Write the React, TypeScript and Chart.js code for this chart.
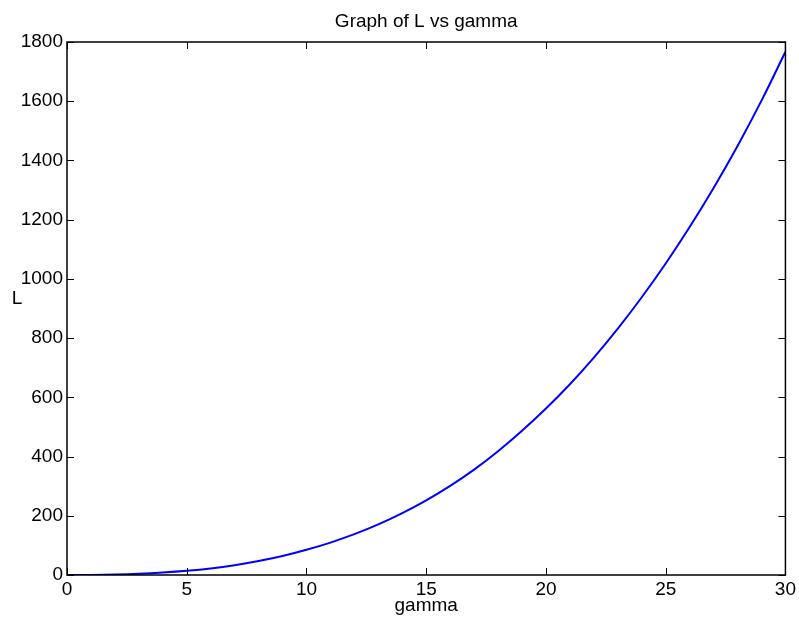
import React, { useEffect, useRef } from "react";
import { Chart, registerables } from "chart.js";

Chart.register(...registerables);

const gammaValues: number[] = [
  0, 1, 2, 3, 4, 5, 6, 7, 8, 9, 10, 11, 12, 13, 14, 15, 16, 17, 18, 19, 20,
  21, 22, 23, 24, 25, 26, 27, 28, 29, 30,
];
const LValues: number[] = [
  0, 0.3, 1.6, 4.1, 8.2, 14, 22, 33, 47, 64, 85, 109.5, 138, 171, 209, 252,
  301, 356, 418, 487, 562, 644, 734, 832, 938, 1052, 1175, 1307, 1449, 1602,
  1767,
];
const xTicks: number[] = [0, 5, 10, 15, 20, 25, 30];
const yTicks: number[] = [0, 200, 400, 600, 800, 1000, 1200, 1400, 1600, 1800];

const chartTitle = "Graph of L vs gamma";
const xLabel = "gamma";
const yLabel = "L";

const FONT = "'Liberation Sans', Arial, Helvetica, sans-serif";
const FS = 19;

export default function App() {
  const ref = useRef<HTMLCanvasElement | null>(null);

  useEffect(() => {
    document.body.style.margin = "0";
    const canvas = ref.current;
    if (!canvas) return;

    const framePlugin = {
      id: "matlabFrame",
      afterDraw(chart: any) {
        const ctx = chart.ctx;
        const { left, right, top, bottom } = chart.chartArea;
        const xs = chart.scales.x;
        const ys = chart.scales.y;
        ctx.save();
        ctx.strokeStyle = "#000";
        ctx.lineWidth = 1;
        const tl = 7;
        ctx.beginPath();
        xTicks.forEach((v) => {
          const px = Math.round(xs.getPixelForValue(v)) + 0.5;
          ctx.moveTo(px, bottom);
          ctx.lineTo(px, bottom - tl);
          ctx.moveTo(px, top);
          ctx.lineTo(px, top + tl);
        });
        yTicks.forEach((v) => {
          const py = Math.round(ys.getPixelForValue(v)) + 0.5;
          ctx.moveTo(left, py);
          ctx.lineTo(left + tl, py);
          ctx.moveTo(right, py);
          ctx.lineTo(right - tl, py);
        });
        ctx.stroke();
        ctx.lineWidth = 1.5;
        ctx.strokeRect(left, top, right - left, bottom - top);
        ctx.fillStyle = "#000";
        ctx.font = `${FS}px ${FONT}`;
        ctx.textAlign = "center";
        ctx.textBaseline = "alphabetic";
        ctx.fillText(chartTitle, (left + right) / 2, 27);
        ctx.fillText(xLabel, (left + right) / 2, 611);
        ctx.fillText(yLabel, 17, 304);
        ctx.restore();
      },
    };

    const chart = new Chart(canvas, {
      type: "line",
      data: {
        datasets: [
          {
            data: gammaValues.map((g, i) => ({ x: g, y: LValues[i] })),
            borderColor: "#0000ff",
            borderWidth: 2,
            pointRadius: 0,
            fill: false,
            cubicInterpolationMode: "monotone",
          },
        ],
      },
      options: {
        animation: false,
        responsive: false,
        maintainAspectRatio: false,
        layout: { padding: { top: 42, right: 12, left: 0, bottom: 0 } },
        plugins: {
          legend: { display: false },
          title: { display: false },
          tooltip: { enabled: false },
        },
        scales: {
          x: {
            type: "linear",
            min: 0,
            max: 30,
            grid: { display: false, drawTicks: false },
            border: { display: false },
            afterFit: (s: any) => {
              s.height = 47;
            },
            afterBuildTicks: (s: any) => {
              s.ticks = xTicks.map((v) => ({ value: v }));
            },
            ticks: {
              color: "#000",
              font: { family: FONT, size: FS },
              padding: 3,
              maxRotation: 0,
              autoSkip: false,
              callback: (v: any) => String(v),
            },
          },
          y: {
            type: "linear",
            min: 0,
            max: 1800,
            grid: { display: false, drawTicks: false },
            border: { display: false },
            afterFit: (s: any) => {
              s.width = 67;
            },
            afterBuildTicks: (s: any) => {
              s.ticks = yTicks.map((v) => ({ value: v }));
            },
            ticks: {
              color: "#000",
              font: { family: FONT, size: FS },
              padding: 4,
              autoSkip: false,
              callback: (v: any) => String(v),
            },
          },
        },
      },
      plugins: [framePlugin],
    });

    return () => chart.destroy();
  }, []);

  return (
    <div style={{ width: 799, height: 622 }}>
      <canvas ref={ref} width={799} height={622} style={{ display: "block" }} />
    </div>
  );
}
